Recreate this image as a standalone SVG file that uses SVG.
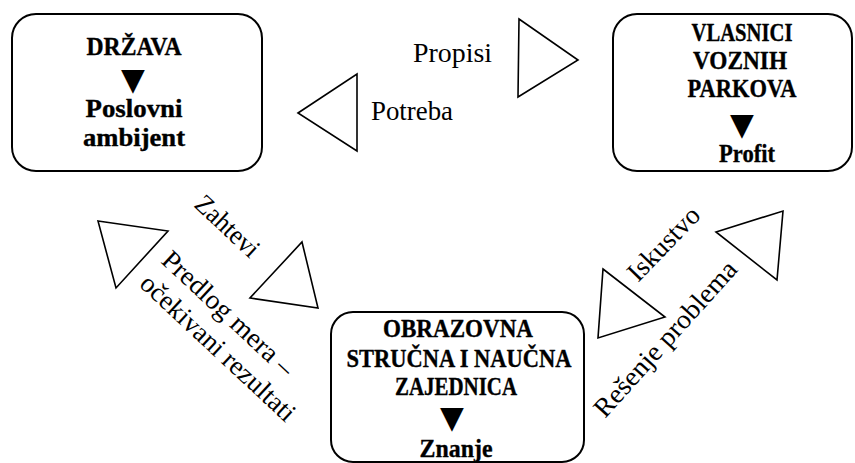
<svg xmlns="http://www.w3.org/2000/svg" width="855" height="463" viewBox="0 0 855 463">
  <style>
    .box { fill: #ffffff; stroke: #000000; stroke-width: 2; }
    .tri { fill: none; stroke: #000000; stroke-width: 1.6; stroke-linejoin: miter; }
    .head { font-family: "Liberation Serif", "Times New Roman", serif; font-weight: bold; font-size: 24.5px; fill: #000000; text-anchor: middle; stroke: #000000; stroke-width: 0.35px; }
    .mark { font-family: "DejaVu Sans", sans-serif; font-size: 31px; fill: #000000; text-anchor: middle; }
    .lbl { font-family: "Liberation Serif", "Times New Roman", serif; font-size: 27px; fill: #000000; }
  </style>
  <rect width="855" height="463" fill="#ffffff"/>

  <g id="node-drzava">
    <rect class="box" x="12" y="14" width="250" height="157" rx="24" ry="24"/>
    <text class="head" x="134" y="55" textLength="95" lengthAdjust="spacingAndGlyphs">DRŽAVA</text>
    <text class="mark" x="133" y="90">▼</text>
    <text class="head" x="134" y="117" textLength="97" lengthAdjust="spacingAndGlyphs">Poslovni</text>
    <text class="head" x="134" y="146" textLength="102" lengthAdjust="spacingAndGlyphs">ambijent</text>
  </g>

  <g id="node-vlasnici">
    <rect class="box" x="613" y="14" width="239" height="157" rx="24" ry="24"/>
    <text class="head" x="742" y="40.5" textLength="101" lengthAdjust="spacingAndGlyphs">VLASNICI</text>
    <text class="head" x="740" y="68.5" textLength="94" lengthAdjust="spacingAndGlyphs">VOZNIH</text>
    <text class="head" x="742" y="97" textLength="109" lengthAdjust="spacingAndGlyphs">PARKOVA</text>
    <text class="mark" x="742" y="135">▼</text>
    <text class="head" x="747" y="162" textLength="56" lengthAdjust="spacingAndGlyphs">Profit</text>
  </g>

  <g id="node-zajednica">
    <rect class="box" x="331" y="312" width="253" height="150" rx="22" ry="22"/>
    <text class="head" x="458" y="337" textLength="150" lengthAdjust="spacingAndGlyphs">OBRAZOVNA</text>
    <text class="head" x="459" y="367" textLength="225" lengthAdjust="spacingAndGlyphs">STRUČNA I NAUČNA</text>
    <text class="head" x="456" y="394.5" textLength="122" lengthAdjust="spacingAndGlyphs">ZAJEDNICA</text>
    <text class="mark" x="452" y="428">▼</text>
    <text class="head" x="456" y="457" textLength="73" lengthAdjust="spacingAndGlyphs">Znanje</text>
  </g>

  <g id="connectors">
    <!-- top pair: DRŽAVA <-> VLASNICI -->
    <polygon class="tri" points="298,113 357,74 357,151"/>
    <polygon class="tri" points="519,19 578,60 518,97"/>
    <text class="lbl" x="413" y="62" textLength="79" lengthAdjust="spacingAndGlyphs">Propisi</text>
    <text class="lbl" x="371" y="120" textLength="82" lengthAdjust="spacingAndGlyphs">Potreba</text>

    <!-- left pair: DRŽAVA <-> ZAJEDNICA -->
    <polygon class="tri" points="98,221 168,231 116,288"/>
    <polygon class="tri" points="302,242 318,308 250,298"/>
    <text class="lbl" transform="translate(193,206) rotate(43)" textLength="78" lengthAdjust="spacingAndGlyphs">Zahtevi</text>
    <g transform="translate(160,262) rotate(43)">
      <text class="lbl" x="0" y="0" textLength="170" lengthAdjust="spacingAndGlyphs">Predlog mera –</text>
      <text class="lbl" x="0" y="32" textLength="202" lengthAdjust="spacingAndGlyphs">očekivani rezultati</text>
    </g>

    <!-- right pair: ZAJEDNICA <-> VLASNICI -->
    <polygon class="tri" points="603,269 665,317 598,338"/>
    <polygon class="tri" points="716,232 783,211 777,280"/>
    <text class="lbl" transform="translate(638,283) rotate(-46)" textLength="92" lengthAdjust="spacingAndGlyphs">Iskustvo</text>
    <text class="lbl" transform="translate(605,419) rotate(-48)" textLength="200" lengthAdjust="spacingAndGlyphs">Rešenje problema</text>
  </g>
</svg>
